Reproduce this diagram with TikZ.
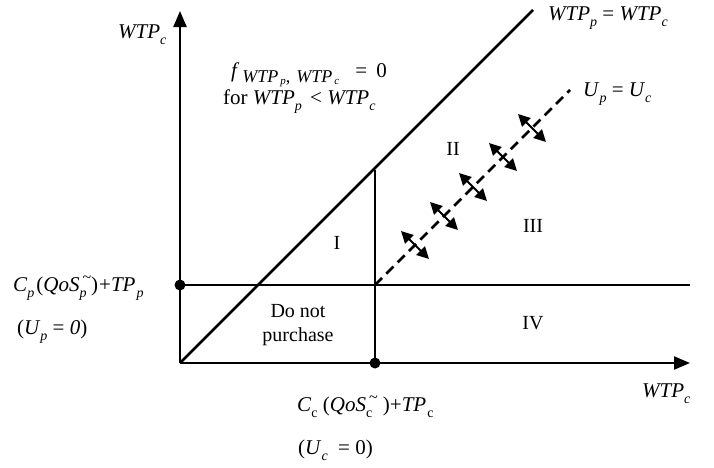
\documentclass[tikz,border=0pt]{standalone}
\usepackage{fontspec}
\setmainfont{Liberation Serif}
\usetikzlibrary{arrows.meta}
\newcommand\lsub[1]{\raisebox{-0.32em}{\fontsize{14}{14}\selectfont #1}}
\newcommand\hsup[1]{\raisebox{0.42em}{\fontsize{16}{16}\selectfont #1}}
\newcommand\fsub[1]{\raisebox{-0.27em}{\fontsize{18}{18}\selectfont #1}}
\newcommand\fsubsub[1]{\hspace{2pt}\raisebox{-0.12em}{\fontsize{11}{11}\selectfont #1}}
\begin{document}
\begin{tikzpicture}[x=1pt,y=-1pt,
  lbl/.style={inner sep=0pt, font=\fontsize{21}{24}\selectfont},
  roman/.style={inner sep=0pt, font=\fontsize{20}{24}\selectfont},
  axis/.style={line width=2.3pt, -{Triangle[length=16pt,width=13pt]}},
  thin line/.style={line width=1.8pt},
  diag/.style={line width=2.7pt},
  dashline/.style={line width=2.7pt, dash pattern=on 10pt off 6pt},
  dbl/.style={line width=2pt, {Triangle[length=12pt,width=12pt]}-{Triangle[length=12pt,width=12pt]}},
  dot/.style={circle, fill=black, inner sep=0pt, minimum size=11pt}]
\useasboundingbox (0,0) rectangle (714,467);
\coordinate (O) at (180,363);
\coordinate (ytip) at (180,11);
\coordinate (xtip) at (690,363);
\coordinate (R) at (375,285);
\coordinate (S) at (375,170);
\coordinate (dend) at (533,10);
\coordinate (hend) at (690,285);
\coordinate (uend) at (570,90);
% lines
\draw[thin line] (180,285) -- (hend);
\draw[thin line] (375,363) -- (S);
\draw[diag] (O) -- (dend);
\draw[dashline] (R) -- (uend);
\draw[axis] (O) -- (ytip);
\draw[axis] (O) -- (xtip);
\node[dot] (pd) at (180,285) {};
\node[dot] (qd) at (375,363) {};
% double arrows
\foreach \cx/\cy [count=\i] in {415/245,444/216,473/187,503/157,532/128}{
  \coordinate (a\i) at ({\cx-14},{\cy-14});
  \coordinate (b\i) at ({\cx+14},{\cy+14});
  \draw[dbl] (a\i) -- (b\i);
}
% labels
\node[lbl, anchor=base west] (ylab) at (118,38) {\textit{WTP}\lsub{\textit{c}}};
\node[lbl, anchor=base west] (xlab) at (642,397) {\textit{WTP}\lsub{\textit{c}}};
\node[lbl, anchor=base west] (flab) at (231,77) {\textit{f}\hspace{3pt}\fsub{\textit{WTP}\fsubsub{\textit{p}},\hspace{6pt}\textit{WTP}\fsubsub{\textit{c}}}\hspace{16pt}=\hspace{4pt} 0};
\node[lbl, anchor=base west] (forlab) at (223,104) {for \textit{WTP}\lsub{\textit{p}}\hspace{3pt} < \textit{WTP}\lsub{\textit{c}}};
\node[lbl, anchor=base west] (eqlab) at (548,20) {\textit{WTP}\lsub{\textit{p}} = \textit{WTP}\lsub{\textit{c}}};
\node[lbl, anchor=base west] (ulab) at (583,96) {\textit{U}\lsub{\textit{p}} = \textit{U}\lsub{\textit{c}}};
\node[lbl, anchor=base west] (cplab) at (13,291) {\textit{C}\lsub{\textit{p}}\hspace{2pt}(\textit{QoS}\rlap{\lsub{\textit{p}}}\hsup{\hspace{3pt}\textasciitilde})\hspace{1pt}+\textit{TP}\hspace{1pt}\lsub{\textit{p}}};
\node[lbl, anchor=base west] (uplab) at (17,334) {(\textit{U}\lsub{\textit{p}} = \textit{0})};
\node[lbl, anchor=base west] (cclab) at (297,411) {\textit{C}\lsub{c} (\textit{QoS}\rlap{\lsub{c}}\hsup{\hspace{3pt}\textasciitilde} )+\textit{TP}\hspace{1pt}\lsub{c}};
\node[lbl, anchor=base west] (uclab) at (298,454) {(\textit{U}\lsub{\textit{c}} \ = 0)};
\node[roman] (r1) at (337,243) {I};
\node[roman] (r2) at (453,149) {II};
\node[roman] (r3) at (533,226) {III};
\node[roman] (r4) at (533,323) {IV};
\node[align=center, inner sep=0pt, font=\fontsize{20}{24}\selectfont] (dnp) at (298,325) {Do not\\purchase};
\end{tikzpicture}
\end{document}
